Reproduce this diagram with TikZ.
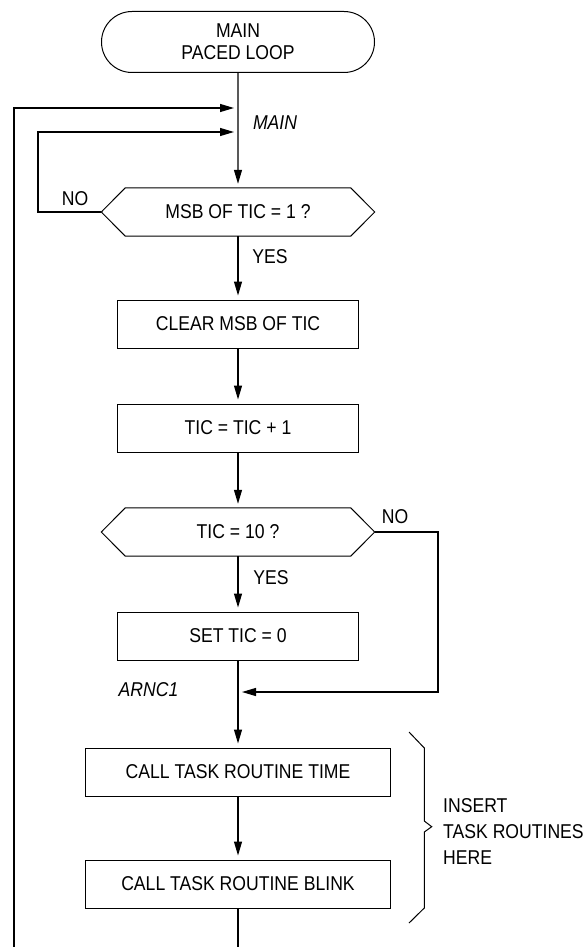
\documentclass[tikz,border=0pt]{standalone}
\usepackage{fontspec}
\setmainfont{Liberation Sans}[FakeStretch=0.88]
\usetikzlibrary{shapes.misc,arrows.meta,calc}
\newcommand\hexshape[1]{%
  \draw[border] (#1.west) -- ([xshift=24pt]#1.north west) -- ([xshift=-24pt]#1.north east)
    -- (#1.east) -- ([xshift=-24pt]#1.south east) -- ([xshift=24pt]#1.south west) -- cycle;}
\begin{document}
\begin{tikzpicture}[x=1pt,y=-1pt,
  every node/.style={font=\fontsize{20}{22}\selectfont, inner sep=0pt},
  border/.style={line width=1pt},
  conn/.style={line width=1.2pt},
  arr/.style={conn, -{Triangle[length=14pt,width=8pt]}, shorten >=4pt},
  procbox/.style={draw, border, minimum width=241pt, minimum height=48pt},
  widebox/.style={draw, border, minimum width=305pt, minimum height=48pt},
  decision/.style={minimum width=273pt, minimum height=48pt},
  term/.style={draw, border, rounded rectangle, minimum width=273pt, minimum height=61pt, align=center},
  lbl/.style={font=\fontsize{20}{22}\selectfont},
  ilbl/.style={font=\fontsize{20}{22}\selectfont\itshape}
]
\useasboundingbox (0,0) rectangle (585,947);

\node[term] (start) at (238,42) {MAIN\\PACED LOOP};
\node[decision] (d1) at (238,212) {MSB OF TIC = 1 ?};
\hexshape{d1}
\node[procbox] (b1) at (238,324) {CLEAR MSB OF TIC};
\node[procbox] (b2) at (238,428) {TIC = TIC + 1};
\node[decision] (d2) at (238,532) {TIC = 10 ?};
\hexshape{d2}
\node[procbox] (b3) at (238,636) {SET TIC = 0};
\node[widebox] (b4) at (238,772) {CALL TASK ROUTINE TIME};
\node[widebox] (b5) at (238,884) {CALL TASK ROUTINE BLINK};

\coordinate (j1) at (238,108);
\coordinate (j2) at (238,132);
\coordinate (j3) at (238,692);
\coordinate (bot) at (238,947);
\coordinate (obot) at (14,947);
\coordinate (lc) at (38,212);
\coordinate (rc) at (438,532);

\draw[arr] (start) -- (d1);
\draw[arr] (d1) -- (b1);
\draw[arr] (b1) -- (b2);
\draw[arr] (b2) -- (d2);
\draw[arr] (d2) -- (b3);
\draw[arr] (b3) -- (b4);
\draw[arr] (b4) -- (b5);
\draw[conn] (b5) -- (bot);
\draw[arr] (d1.west) -- (lc) |- (j2);
\draw[arr] (obot) |- (j1);
\draw[arr] (d2.east) -- (rc) |- (j3);

\node[lbl] (no1) at (75,199) {NO};
\node[lbl] (yes1) at (270,257) {YES};
\node[lbl] (no2) at (395,517) {NO};
\node[lbl] (yes2) at (271,578) {YES};
\node[ilbl] (lmain) at (275,123) {MAIN};
\node[ilbl] (larnc) at (148.5,690) {ARNC1};

\draw[border] (409,732) -- (424.3,748) -- (424.3,821) -- (431.7,826.7) -- (424.3,832) -- (424.3,908) -- (409,923);
\node[lbl, anchor=west, align=left, font=\fontsize{20}{26}\selectfont] (ins) at (443,831.7) {INSERT\\TASK ROUTINES\\HERE};
\end{tikzpicture}
\end{document}
